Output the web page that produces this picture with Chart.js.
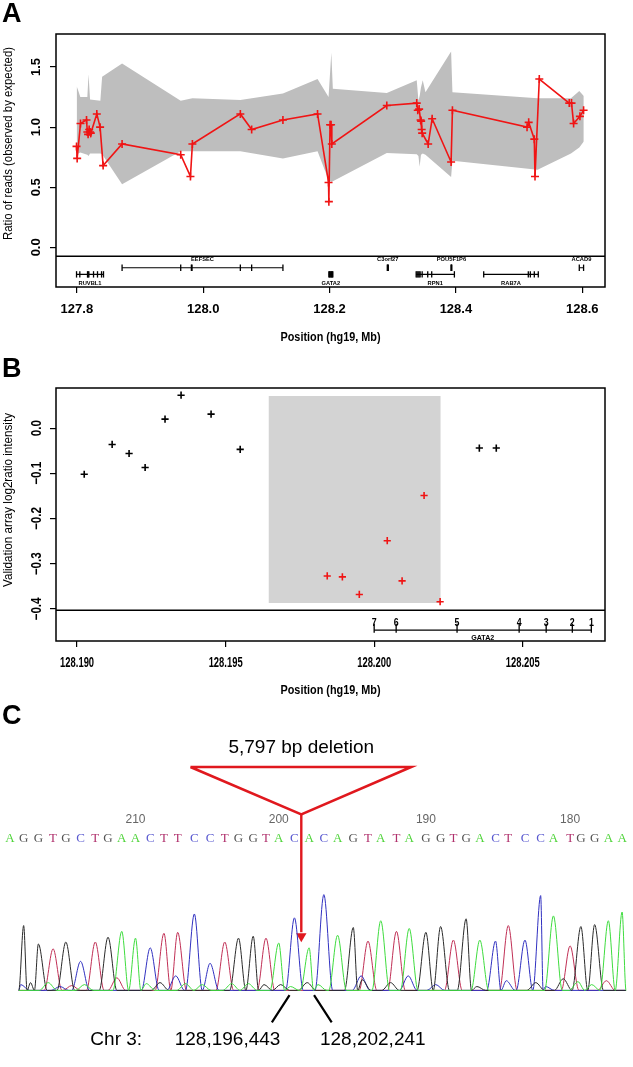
<!DOCTYPE html>
<html lang="en">
<head>
<meta charset="utf-8">
<title>GATA2 deletion</title>
<script src="https://cdn.jsdelivr.net/npm/chart.js@4.4.1/dist/chart.umd.min.js"></script>
<style>
  html, body { margin: 0; padding: 0; background: #fff; }
  body { position: relative; width: 633px; height: 1067px; overflow: hidden; font-family: "Liberation Sans", Arial, sans-serif; }
  .panel { position: absolute; left: 0; }
  .panel canvas { display: block; }
  .tag { position: absolute; left: 2px; font: bold 27px/1 "Liberation Sans", Arial, sans-serif; }
</style>
</head>
<body>
<div class="panel" style="top:0"><canvas id="chartA" width="633" height="350"></canvas></div>
<div class="panel" style="top:350px"><canvas id="chartB" width="633" height="350"></canvas></div>
<div class="panel" style="top:700px"><canvas id="chartC" width="633" height="367"></canvas></div>
<div class="tag" style="top:0">A</div>
<div class="tag" style="top:355px">B</div>
<div class="tag" style="top:702px">C</div>
<script>
const FONT = '"Liberation Sans", Arial, sans-serif';
const RED = "#f01414";

// ---- A: read ratio along chr3 (Mb) ----
const posA = [127.7995, 127.8005, 127.8058, 127.8153, 127.8166, 127.8178, 127.8195, 127.8210, 127.8221,
  127.8316, 127.8368, 127.8416, 127.8716, 127.9644, 127.9798, 127.9829, 128.0588, 128.0767, 128.1262,
  128.1810, 128.1984, 128.1989, 128.2008, 128.2024, 128.2036, 128.2906, 128.3380, 128.3396, 128.3418,
  128.3441, 128.3450, 128.3458, 128.3466, 128.3561, 128.3624, 128.3924, 128.3945, 128.5126, 128.5152,
  128.5241, 128.5252, 128.5320, 128.5794, 128.5830, 128.5863, 128.5963, 128.6021];
const ratioA = [0.84, 0.74, 1.03, 1.06, 0.96, 0.94, 0.98, 0.96, 0.95,
  1.11, 1.00, 0.68, 0.86, 0.77, 0.59, 0.86, 1.11, 0.98, 1.06,
  1.11, 0.54, 0.38, 1.02, 1.02, 0.86, 1.18, 1.20, 1.14, 1.15,
  1.06, 1.05, 0.98, 0.95, 0.86, 1.07, 0.71, 1.14, 1.00, 1.04,
  0.90, 0.59, 1.40, 1.20, 1.20, 1.03, 1.09, 1.14];

// expected range (grey band)
const bandX = [127.7997, 127.8024, 127.8055, 127.8166, 127.8185, 127.8209, 127.8372, 127.8400, 127.8716,
  127.9644, 127.9829, 128.0588, 128.1262, 128.1810, 128.1984, 128.2028, 128.2052, 128.2906, 128.3380,
  128.3407, 128.3426, 128.3447, 128.3475, 128.3518, 128.3924, 128.3945, 128.5293, 128.5821, 128.5953, 128.6024];
const bandHi = [1.34, 1.30, 1.25, 1.25, 1.44, 1.23, 1.22, 1.42, 1.53, 1.22, 1.24, 1.225, 1.28, 1.40, 1.25,
  1.62, 1.32, 1.285, 1.39, 1.22, 1.26, 1.33, 1.39, 1.29, 1.63, 1.29, 1.24, 1.24, 1.30, 1.26];
const bandLo = [0.78, 0.78, 0.79, 0.77, 0.76, 0.78, 0.78, 0.775, 0.525, 0.80, 0.80, 0.80, 0.74, 0.80, 0.56,
  0.545, 0.55, 0.785, 0.775, 0.76, 0.67, 0.77, 0.78, 0.77, 0.585, 0.72, 0.645, 0.78, 0.83, 0.88];

const ticksAx = [127.8, 128.0, 128.2, 128.4, 128.6];
const ticksAy = [0, 0.5, 1.0, 1.5];

const geneName = ["RUVBL1", "EEFSEC", "GATA2", "C3orf27", "POU5F1P6", "RPN1", "RAB7A", "ACAD9"];
const geneStart = [127.7995, 127.8716, 128.1989, 128.2914, 128.3923, 128.3371, 128.4440, 128.5953];
const geneEnd = [127.8422, 128.1262, 128.2052, 128.2930, 128.3935, 128.3976, 128.5304, 128.6021];
const geneUpper = [false, true, false, true, true, false, false, true];
const geneExons = [
  [127.7995, 127.8047, 127.8169, 127.8179, 127.8190, 127.8264, 127.8327, 127.8391, 127.8422],
  [127.8716, 127.9644, 127.9813, 127.9823, 128.0588, 128.0767, 128.1262],
  [128.1989, 128.2000, 128.2011, 128.2022, 128.2033, 128.2043, 128.2052],
  [128.2914, 128.2922, 128.2930],
  [128.3923, 128.3929, 128.3935],
  [128.3371, 128.3386, 128.3402, 128.3418, 128.3434, 128.3466, 128.3554, 128.3617, 128.3976],
  [128.4440, 128.5146, 128.5178, 128.5241, 128.5304],
  [128.5953, 128.6021]
];

// ---- B: validation array ----
const probePos = [128.19024, 128.19118, 128.19175, 128.19229, 128.19296, 128.19350, 128.19451, 128.19549,
  128.19842, 128.19893, 128.19950, 128.20044, 128.20094, 128.20168, 128.20222, 128.20354, 128.20411];
const probeVal = [-0.102, -0.036, -0.056, -0.087, 0.020, 0.073, 0.031, -0.047,
  -0.327, -0.329, -0.368, -0.249, -0.338, -0.149, -0.384, -0.044, -0.044];
const breakpoints = [128196443, 128202241];
const gataExonPos = [128.20731, 128.20667, 128.20579, 128.20488, 128.20279, 128.20074, 128.20000];
const gataExonNum = ["1", "2", "3", "4", "5", "6", "7"];
const ticksBx = [128.190, 128.195, 128.200, 128.205];
const ticksBy = [0, -0.1, -0.2, -0.3, -0.4];

// ---- C: Sanger trace across the junction ----
const bases = "AGGTGCTGAACTTCCTGGTACACAGTATAGGTGACTCCATGGAA";
const basePos = [4, 18, 33, 48, 61, 76, 91, 104, 118, 132, 147, 161, 175, 192, 208, 223, 237, 252, 265, 278,
  294, 309, 324, 338, 354, 369, 382, 398, 411, 428, 443, 456, 469, 483, 499, 512, 529, 545, 558, 575,
  586, 600, 614, 628];
const peakH = [0, 67, 48, 43, 50, 30, 50, 55, 61, 54, 44, 59, 60, 79, 28, 50, 54, 56, 54, 49,
  75, 44, 99, 57, 65, 51, 72, 61, 64, 60, 66, 52, 74, 52, 51, 67, 52, 98, 77, 46,
  66, 68, 72, 81];
const minorPos = [15, 25, 43, 55, 67, 80, 113, 143, 157, 173, 183, 200, 230, 247, 263, 280, 290, 307, 318, 362,
  363, 392, 410, 438, 480, 510, 540, 550, 568, 583, 597, 612];
const minorBase = "CGACTATAGCAAAAGGAGACGGCCGCGCGAAT";
const minorH = [6, 8, 8, 4, 5, 6, 13, 7, 8, 15, 7, 6, 7, 7, 6, 6, 4, 8, 6, 15, 11, 8, 15, 6, 4, 10, 8, 4, 12, 9, 6, 10];
const firstBaseNumber = 219; // numbering runs backwards along the read

// text helper: canvas text, optionally squeezed to a width
function label(ctx, s, px, py, font, o = {}) {
  ctx.save();
  ctx.font = font;
  let sx = o.sx || 1;
  if (o.width) sx = o.width / ctx.measureText(s).width;
  ctx.translate(px, py);
  if (o.rot) ctx.rotate(o.rot);
  ctx.scale(sx, 1);
  ctx.fillStyle = o.color || "#000";
  ctx.textAlign = o.align || "center";
  ctx.textBaseline = "middle";
  ctx.fillText(s, 0, 0);
  ctx.restore();
}
function squeeze(ctx, font, sample, width) {
  ctx.font = font;
  return width / ctx.measureText(sample).width;
}

function axisOpts(min, max, ticks, size, vertical) {
  return {
    type: "linear", min, max,
    border: { display: false },
    grid: { drawOnChartArea: false, drawTicks: true, tickLength: 6, color: "#000", lineWidth: 1.2 },
    ticks: { display: false },
    afterBuildTicks: s => { s.ticks = ticks.map(value => ({ value })); },
    afterFit: s => { if (vertical) s.width = size; else s.height = size; }
  };
}

// ---------------- A ----------------
const A_SPLIT = -0.075, A_ROW_UP = -0.17, A_ROW_LOW = -0.225, A_LAB_UP = -0.10, A_LAB_LOW = -0.30;
const geneLinePts = [];
const exonPts = [];
geneName.forEach((g, i) => {
  const r = geneUpper[i] ? A_ROW_UP : A_ROW_LOW;
  geneLinePts.push({ x: geneStart[i], y: r }, { x: geneEnd[i], y: r }, { x: geneEnd[i], y: null });
  geneExons[i].forEach(e => exonPts.push({ x: e, y: r }));
});

const frameA = {
  id: "frameA",
  afterDraw(chart) {
    const { ctx, chartArea: a, scales: { x, y } } = chart;
    ctx.save();
    ctx.strokeStyle = "#000";
    ctx.lineWidth = 1.5;
    ctx.strokeRect(a.left, a.top, a.width, a.height);
    const ys = y.getPixelForValue(A_SPLIT);
    ctx.beginPath(); ctx.moveTo(a.left, ys); ctx.lineTo(a.right, ys); ctx.stroke();
    ctx.restore();

    const tf = "bold 13px " + FONT;
    ticksAx.forEach(v => label(ctx, v.toFixed(1), x.getPixelForValue(v), a.bottom + 22, tf));
    ticksAy.forEach(v => label(ctx, v.toFixed(1), 36, y.getPixelForValue(v), tf, { rot: -Math.PI / 2 }));
    label(ctx, "Position (hg19, Mb)", (a.left + a.right) / 2, a.bottom + 51, "bold 12px " + FONT, { width: 100 });
    label(ctx, "Ratio of reads (observed by expected)", 9, 143.5, "12px " + FONT, { rot: -Math.PI / 2, width: 193 });

    const gf = "bold 6px " + FONT;
    const gsx = squeeze(ctx, gf, "EEFSEC", 23);
    geneName.forEach((g, i) => {
      const cx = x.getPixelForValue((geneStart[i] + geneEnd[i]) / 2);
      const cy = y.getPixelForValue(geneUpper[i] ? A_LAB_UP : A_LAB_LOW);
      label(ctx, g, cx, cy, gf, { sx: gsx });
    });
  }
};

new Chart(document.getElementById("chartA"), {
  type: "scatter",
  data: {
    datasets: [
      {
        data: posA.map((x, i) => ({ x, y: ratioA[i] })),
        showLine: true, borderColor: RED, borderWidth: 1.6,
        pointStyle: "cross", pointRadius: 4, pointBorderWidth: 1.6,
        pointBorderColor: RED, pointBackgroundColor: RED
      },
      { data: geneLinePts, showLine: true, borderColor: "#000", borderWidth: 1.2, pointRadius: 0 },
      {
        data: exonPts, pointStyle: "line", pointRotation: 90, pointRadius: 3.2,
        pointBorderWidth: 1.3, pointBorderColor: "#000", pointBackgroundColor: "#000"
      },
      {
        data: bandX.map((x, i) => ({ x, y: bandHi[i] })),
        showLine: true, borderWidth: 0, borderColor: "transparent", pointRadius: 0,
        backgroundColor: "#bebebe", fill: "+1"
      },
      {
        data: bandX.map((x, i) => ({ x, y: bandLo[i] })),
        showLine: true, borderWidth: 0, borderColor: "transparent", pointRadius: 0, fill: false
      }
    ]
  },
  options: {
    responsive: false,
    animation: false,
    layout: { padding: { top: 34, right: 28, bottom: 0, left: 0 } },
    plugins: { legend: { display: false }, tooltip: { enabled: false } },
    scales: {
      x: axisOpts(127.767, 128.636, ticksAx, 63, false),
      y: axisOpts(-0.33, 1.775, ticksAy, 56, true)
    }
  },
  plugins: [frameA]
});

// ---------------- B ----------------
const B_SPLIT = -0.403, B_ROW = -0.447, B_EXON = -0.443, B_NUM = -0.431, B_LAB = -0.464;
const shadeTop = 0.071, shadeBottom = -0.387;
const delStart = breakpoints[0] / 1e6, delEnd = breakpoints[1] / 1e6;
const inDel = probePos.map(p => p >= delStart && p <= delEnd);

const frameB = {
  id: "frameB",
  afterDraw(chart) {
    const { ctx, chartArea: a, scales: { x, y } } = chart;
    ctx.save();
    ctx.strokeStyle = "#000";
    ctx.lineWidth = 1.5;
    ctx.strokeRect(a.left, a.top, a.width, a.height);
    const ys = y.getPixelForValue(B_SPLIT);
    ctx.beginPath(); ctx.moveTo(a.left, ys); ctx.lineTo(a.right, ys); ctx.stroke();
    ctx.restore();

    const tf = "bold 14px " + FONT;
    const sxx = squeeze(ctx, tf, "128.190", 34);
    ticksBx.forEach(v => label(ctx, v.toFixed(3), x.getPixelForValue(v), a.bottom + 22, tf, { sx: sxx }));
    const sxy = squeeze(ctx, tf, "\u22120.1", 23);
    ticksBy.forEach(v => label(ctx, (v < 0 ? "\u2212" : "") + Math.abs(v).toFixed(1), 37, y.getPixelForValue(v), tf,
      { rot: -Math.PI / 2, sx: sxy }));
    label(ctx, "Position (hg19, Mb)", (a.left + a.right) / 2, a.bottom + 50, "bold 12px " + FONT, { width: 100 });
    label(ctx, "Validation array log2ratio intensity", 9, 150, "12px " + FONT, { rot: -Math.PI / 2, width: 174 });

    const nf = "bold 11px " + FONT;
    gataExonPos.forEach((p, i) => label(ctx, gataExonNum[i], x.getPixelForValue(p), y.getPixelForValue(B_NUM), nf, { sx: 0.8 }));
    label(ctx, "GATA2", x.getPixelForValue((gataExonPos[0] + gataExonPos[6]) / 2),
      y.getPixelForValue(B_LAB), "bold 7px " + FONT, { width: 23 });
  }
};

new Chart(document.getElementById("chartB"), {
  type: "scatter",
  data: {
    datasets: [
      {
        data: probePos.map((x, i) => ({ x, y: probeVal[i] })).filter((d, i) => !inDel[i]),
        pointStyle: "cross", pointRadius: 3.6, pointBorderWidth: 1.6, pointBorderColor: "#000"
      },
      {
        data: probePos.map((x, i) => ({ x, y: probeVal[i] })).filter((d, i) => inDel[i]),
        pointStyle: "cross", pointRadius: 3.6, pointBorderWidth: 1.6, pointBorderColor: RED
      },
      {
        data: [{ x: Math.min(...gataExonPos), y: B_ROW }, { x: Math.max(...gataExonPos), y: B_ROW }],
        showLine: true, borderColor: "#000", borderWidth: 1.2, pointRadius: 0
      },
      {
        data: gataExonPos.map(x => ({ x, y: B_EXON })),
        pointStyle: "line", pointRotation: 90, pointRadius: 4.5, pointBorderWidth: 1.3, pointBorderColor: "#000"
      },
      {
        data: [{ x: delStart, y: shadeTop }, { x: delEnd, y: shadeTop }],
        showLine: true, borderWidth: 0, borderColor: "transparent", pointRadius: 0,
        backgroundColor: "#d3d3d3", fill: { value: shadeBottom }
      }
    ]
  },
  options: {
    responsive: false,
    animation: false,
    layout: { padding: { top: 38, right: 28, bottom: 0, left: 0 } },
    plugins: { legend: { display: false }, tooltip: { enabled: false } },
    scales: {
      x: axisOpts(128.18929, 128.20777, ticksBx, 59, false),
      y: axisOpts(-0.471, 0.0889, ticksBy, 56, true)
    }
  },
  plugins: [frameB]
});

// ---------------- C ----------------
const traceStart = 13, traceEnd = 632, HW = 9;
const traceColor = { A: "#3edc3e", C: "#3030c0", G: "#2a2a2a", T: "#c02f55" };
const letterColor = { A: "#4fd43a", C: "#5a5ad0", G: "#555555", T: "#b0306c" };
const junction = 301;
const C_LETTERS = 157, C_NUMBERS = 176;

function traceFor(b) {
  const pk = [];
  basePos.forEach((p, i) => { if (bases[i] === b && peakH[i] > 0) pk.push([p, peakH[i]]); });
  minorPos.forEach((p, i) => { if (minorBase[i] === b) pk.push([p, minorH[i]]); });
  pk.sort((u, v) => u[0] - v[0]);
  const pts = [{ x: traceStart, y: 0 }];
  pk.forEach(([p, h], i) => {
    const prev = i > 0 ? pk[i - 1][0] : -Infinity;
    const next = i < pk.length - 1 ? pk[i + 1][0] : Infinity;
    pts.push({ x: Math.max(traceStart, p - HW, (p + prev) / 2), y: 0 });
    pts.push({ x: p, y: h });
    pts.push({ x: Math.min(traceEnd, p + HW, (p + next) / 2), y: 0 });
  });
  pts.push({ x: traceEnd, y: 0 });
  return pts;
}

const textC = {
  id: "textC",
  afterDraw(chart) {
    const { ctx, scales: { x, y } } = chart;
    const lf = "13px \"Liberation Serif\", \"Times New Roman\", serif";
    for (let i = 0; i < bases.length; i++) {
      label(ctx, bases[i], x.getPixelForValue(basePos[i]), y.getPixelForValue(C_LETTERS), lf, { color: letterColor[bases[i]] });
      const n = firstBaseNumber - i;
      if (n % 10 === 0) label(ctx, String(n), x.getPixelForValue(basePos[i]), y.getPixelForValue(C_NUMBERS), "12px " + FONT, { color: "#666" });
    }
    const size = breakpoints[1] - breakpoints[0] - 1;
    label(ctx, size.toLocaleString("en-US") + " bp deletion", x.getPixelForValue(junction), y.getPixelForValue(251), "19px " + FONT);
    label(ctx, "Chr 3:", x.getPixelForValue(86), y.getPixelForValue(-51), "19px " + FONT, { align: "left" });
    label(ctx, breakpoints[0].toLocaleString("en-US"), x.getPixelForValue(172), y.getPixelForValue(-51), "19px " + FONT, { align: "left" });
    label(ctx, breakpoints[1].toLocaleString("en-US"), x.getPixelForValue(320), y.getPixelForValue(-51), "19px " + FONT, { align: "left" });
  }
};

new Chart(document.getElementById("chartC"), {
  type: "scatter",
  data: {
    datasets: [
      ...["A", "G", "C", "T"].map(b => ({
        data: traceFor(b), showLine: true, borderColor: traceColor[b], borderWidth: 1,
        pointRadius: 0, cubicInterpolationMode: "monotone"
      })),
      {
        data: [{ x: junction - 113, y: 231 }, { x: junction + 112, y: 231 }, { x: junction, y: 182 }, { x: junction - 113, y: 231 }],
        showLine: true, borderColor: "#e0181e", borderWidth: 2.6, pointRadius: 0, borderJoinStyle: "miter"
      },
      {
        data: [{ x: junction, y: 182 }, { x: junction, y: 60 }],
        showLine: true, borderColor: "#e0181e", borderWidth: 2.4, pointRadius: 0
      },
      {
        data: [{ x: junction, y: 56 }],
        pointStyle: "triangle", pointRotation: 180, pointRadius: 6,
        pointBackgroundColor: "#e0181e", pointBorderColor: "#e0181e", pointBorderWidth: 0
      },
      {
        data: [{ x: junction - 12, y: -5 }, { x: junction - 30, y: -33 }, { x: junction - 30, y: null },
               { x: junction + 13, y: -5 }, { x: junction + 31, y: -33 }],
        showLine: true, borderColor: "#000", borderWidth: 2.2, pointRadius: 0
      }
    ]
  },
  options: {
    responsive: false,
    animation: false,
    layout: { padding: 0 },
    plugins: { legend: { display: false }, tooltip: { enabled: false } },
    scales: {
      x: { type: "linear", display: false, min: 0, max: 633 },
      y: { type: "linear", display: false, min: -73, max: 294 }
    }
  },
  plugins: [textC]
});
</script>
</body>
</html>
